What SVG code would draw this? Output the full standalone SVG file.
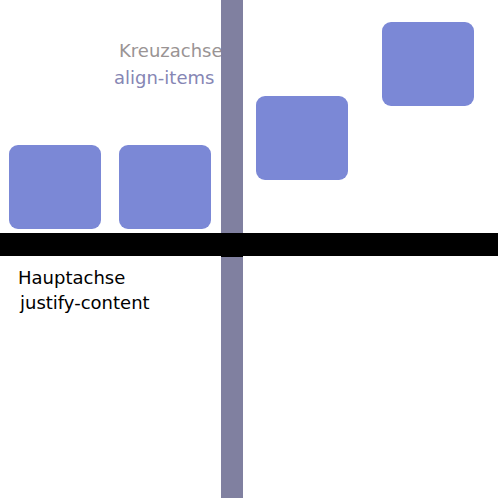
<svg xmlns="http://www.w3.org/2000/svg" width="500" height="500" viewBox="0 0 500 500">
<style>
.box{fill:#7b88d6}
.t{font-family:"DejaVu Sans",Verdana,sans-serif;font-size:18px}
</style>
<rect width="500" height="500" fill="#fff"/>
<g id="labels-top">
<text class="t" x="119" y="57" fill="#9a9494">Kreuzachse</text>
<text class="t" x="114" y="84" fill="#8686b4">align-items</text>
</g>
<g id="connectors">
<rect id="cross-axis" x="221" y="0" width="22" height="498" fill="#8080a0"/>
<rect id="main-axis" x="0" y="233" width="498" height="23" fill="#000"/>
<rect x="221" y="237" width="22" height="20" fill="#000"/>
</g>
<g id="box1"><rect class="box" x="9" y="145" width="92" height="84" rx="9"/></g>
<g id="box2"><rect class="box" x="119" y="145" width="92" height="84" rx="9"/></g>
<g id="box3"><rect class="box" x="256" y="96" width="92" height="84" rx="9"/></g>
<g id="box4"><rect class="box" x="382" y="22" width="92" height="84" rx="9"/></g>
<g id="labels-bottom">
<text class="t" x="18" y="284" fill="#000">Hauptachse</text>
<text class="t" x="20" y="309" fill="#000">justify-content</text>
</g>
</svg>
